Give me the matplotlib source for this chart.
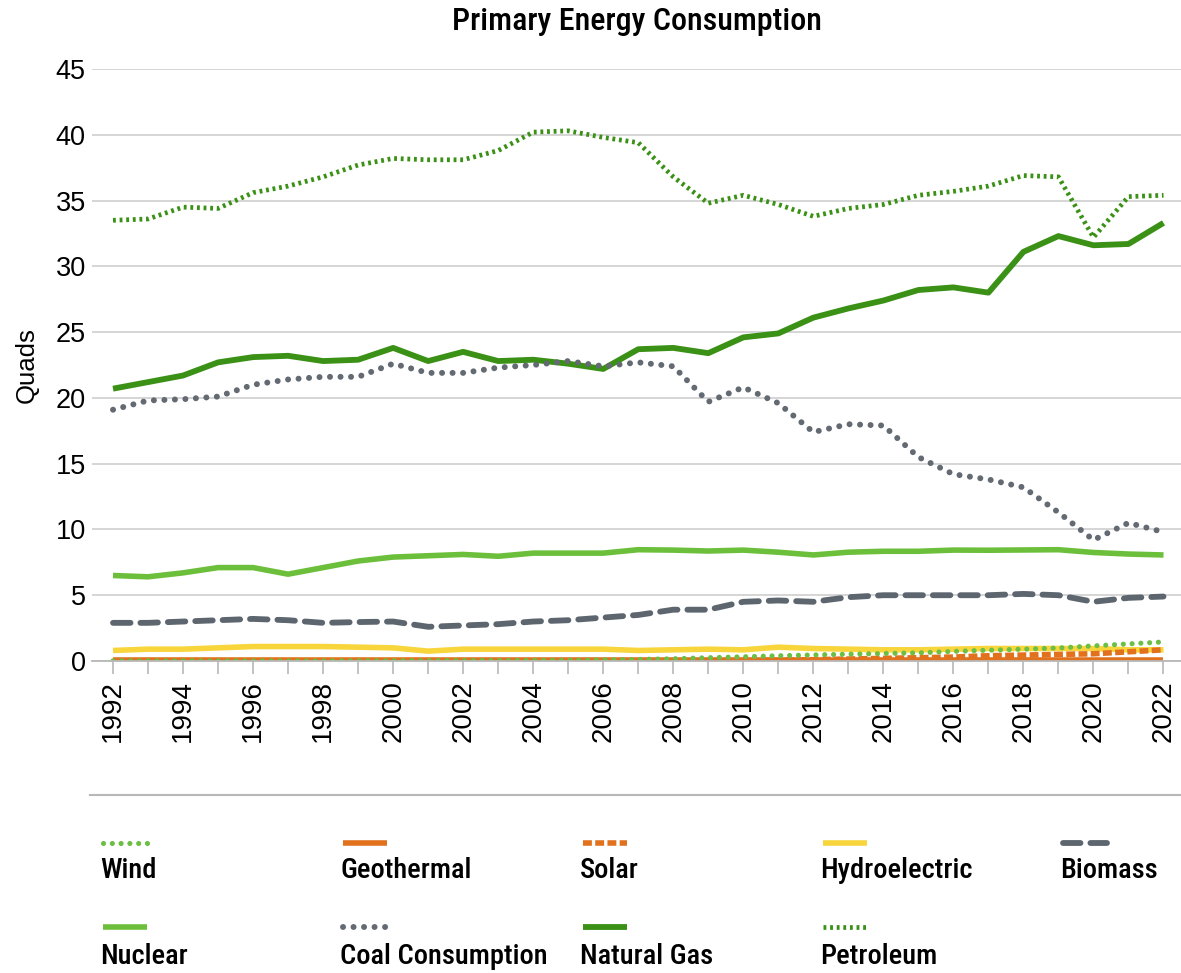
import matplotlib
matplotlib.use("Agg")
import matplotlib.pyplot as plt
from matplotlib import font_manager
from matplotlib.lines import Line2D

years = list(range(1992, 2023))

petroleum = [33.5, 33.6, 34.5, 34.4, 35.6, 36.1, 36.8, 37.7, 38.2, 38.1, 38.1, 38.8, 40.2, 40.3, 39.8, 39.4,
             36.8, 34.8, 35.4, 34.7, 33.8, 34.4, 34.7, 35.4, 35.7, 36.1, 36.9, 36.8, 32.2, 35.3, 35.4]
natural_gas = [20.7, 21.2, 21.7, 22.7, 23.1, 23.2, 22.8, 22.9, 23.8, 22.8, 23.5, 22.8, 22.9, 22.6, 22.2, 23.7,
               23.8, 23.4, 24.6, 24.9, 26.1, 26.8, 27.4, 28.2, 28.4, 28.0, 31.1, 32.3, 31.6, 31.7, 33.3]
coal = [19.1, 19.8, 19.9, 20.1, 21.0, 21.4, 21.6, 21.6, 22.6, 21.9, 21.9, 22.3, 22.5, 22.8, 22.4, 22.7,
        22.4, 19.7, 20.8, 19.6, 17.4, 18.0, 17.9, 15.5, 14.2, 13.8, 13.2, 11.3, 9.2, 10.5, 9.8]
nuclear = [6.5, 6.4, 6.7, 7.1, 7.1, 6.6, 7.1, 7.6, 7.9, 8.0, 8.1, 7.96, 8.2, 8.2, 8.2, 8.46,
           8.43, 8.36, 8.43, 8.27, 8.06, 8.27, 8.34, 8.34, 8.43, 8.42, 8.44, 8.46, 8.25, 8.13, 8.06]
biomass = [2.9, 2.9, 3.0, 3.1, 3.2, 3.1, 2.9, 2.96, 3.0, 2.6, 2.7, 2.8, 3.0, 3.1, 3.3, 3.5,
           3.9, 3.9, 4.5, 4.6, 4.5, 4.85, 5.0, 5.0, 5.0, 5.0, 5.1, 5.0, 4.5, 4.8, 4.9]
hydro = [0.8, 0.9, 0.9, 1.0, 1.1, 1.1, 1.1, 1.05, 1.0, 0.75, 0.9, 0.9, 0.9, 0.9, 0.9, 0.8,
         0.85, 0.9, 0.85, 1.05, 0.95, 0.9, 0.85, 0.85, 0.9, 0.95, 0.95, 0.95, 0.95, 0.85, 0.85]
wind = [0.01, 0.01, 0.01, 0.01, 0.01, 0.01, 0.01, 0.02, 0.02, 0.03, 0.04, 0.04, 0.05, 0.06, 0.09, 0.12,
        0.17, 0.25, 0.32, 0.40, 0.46, 0.52, 0.57, 0.62, 0.73, 0.82, 0.90, 0.99, 1.15, 1.30, 1.45]
solar = [0.0, 0.0, 0.0, 0.0, 0.0, 0.0, 0.0, 0.0, 0.0, 0.0, 0.0, 0.0, 0.0, 0.0, 0.0, 0.01,
         0.01, 0.02, 0.03, 0.06, 0.10, 0.15, 0.20, 0.25, 0.30, 0.40, 0.45, 0.50, 0.55, 0.70, 0.85]
geothermal = [0.1] * 31

series_names = ["Wind", "Geothermal", "Solar", "Hydroelectric", "Biomass",
                "Nuclear", "Coal Consumption", "Natural Gas", "Petroleum"]
series_values = [wind, geothermal, solar, hydro, biomass, nuclear, coal, natural_gas, petroleum]

styles = {
    "Wind": dict(color="#6cbf45", lw=3.7, dashes=(0.01, 1.7), dash_capstyle="round"),
    "Geothermal": dict(color="#e2711d", lw=4.0, solid_capstyle="butt"),
    "Solar": dict(color="#e2711d", lw=4.0, dashes=(1.6, 0.6), dash_capstyle="butt"),
    "Hydroelectric": dict(color="#f8d53a", lw=4.0, solid_capstyle="butt"),
    "Biomass": dict(color="#5d666e", lw=4.2, dashes=(3.0, 1.7), dash_capstyle="round"),
    "Nuclear": dict(color="#6cbf3a", lw=4.0, solid_capstyle="butt"),
    "Coal Consumption": dict(color="#636a72", lw=4.3, dashes=(0.01, 1.75), dash_capstyle="round"),
    "Natural Gas": dict(color="#3a9116", lw=4.2, solid_capstyle="butt"),
    "Petroleum": dict(color="#3a9116", lw=3.4, dashes=(0.6, 0.8), dash_capstyle="butt"),
}

avail = {f.name for f in font_manager.fontManager.ttflist}
cands = ["Roboto Condensed", "Fira Sans Condensed", "Archivo Narrow", "PT Sans Narrow",
         "IBM Plex Sans Condensed", "Encode Sans Condensed", "Asap Condensed",
         "Liberation Sans Narrow", "Liberation Sans"]
narrow = next(c for c in cands if c in avail)
regular = "Liberation Sans"

W, H = 1181, 973
fig = plt.figure(figsize=(W / 100, H / 100), dpi=100)
ax = fig.add_axes([92 / W, 1 - 661 / H, 1 - 92 / W, (661 - 69) / H])

for name, vals in reversed(list(zip(series_names, series_values))):
    ax.plot(years, vals, **styles[name])

ax.set_ylim(0, 45)
ax.set_xlim(1991.4, 2022.5)
ax.set_yticks(range(0, 46, 5))
ax.set_xticks(years)
ax.set_xticklabels([str(y) if y % 2 == 0 else "" for y in years], rotation=90,
                   fontsize=20, family=regular)
ax.tick_params(axis="x", length=9, width=1.2, color="#b8b8b8", pad=5)
ax.tick_params(axis="y", length=0, pad=4.5, labelsize=19.5)
for lab in ax.get_yticklabels():
    lab.set_family(regular)
ax.grid(axis="y", color="#d2d2d2", lw=1.3)
ax.set_axisbelow(True)
for s in ["top", "right", "left"]:
    ax.spines[s].set_visible(False)
ax.spines["bottom"].set_color("#b8b8b8")
ax.spines["bottom"].set_linewidth(1.3)
ax.set_ylabel("Quads", fontsize=18.5, family=regular, labelpad=12)

fig.text(637 / W, 1 - 21 / H, "Primary Energy Consumption", ha="center", va="center",
         fontsize=23, family=narrow, weight="medium")

# divider
fig.add_artist(Line2D([90 / W, 1.0], [1 - 795 / H, 1 - 795 / H], color="#b8b8b8", lw=1.5))

# legend
col_x = [100, 340, 580, 820, 1060]
rows = [(843, 870), (927, 957)]
for i, name in enumerate(series_names):
    r, c = divmod(i, 5)
    ly, ty = rows[r]
    x0 = col_x[c] + 3
    fig.add_artist(Line2D([x0 / W, (x0 + 44) / W], [1 - ly / H, 1 - ly / H], **styles[name]))
    fig.text(col_x[c] / W, 1 - ty / H, name, ha="left", va="center",
             fontsize=20.5, family=narrow, weight="medium")

fig.savefig("out.png", dpi=100)
